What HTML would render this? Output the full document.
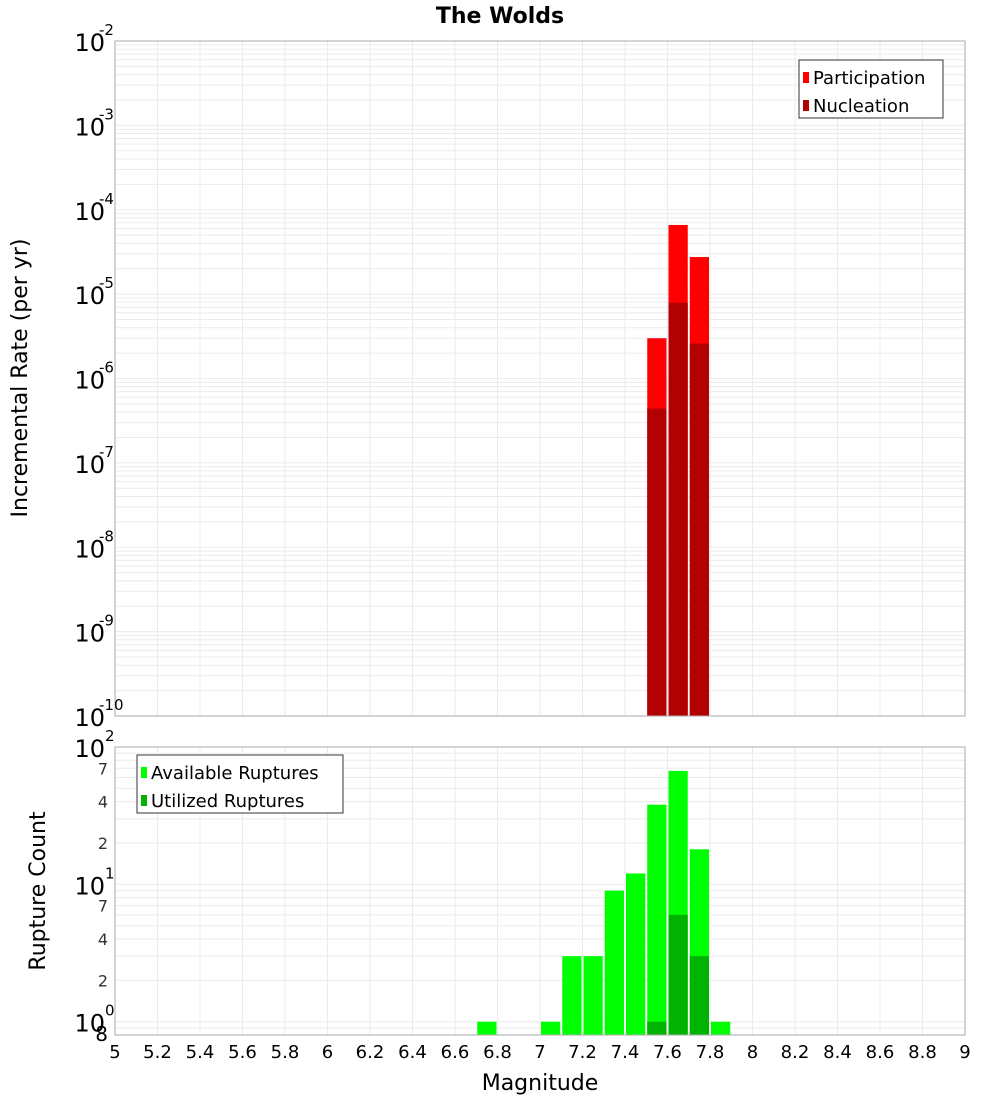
<!DOCTYPE html>
<html><head><meta charset="utf-8">
<style>
body{margin:0;background:#fff;font-family:"DejaVu Sans","Liberation Sans",sans-serif;}
svg text{font-family:"DejaVu Sans","Liberation Sans",sans-serif;}
</style></head>
<body>
<svg id="c" width="1000" height="1100" xmlns="http://www.w3.org/2000/svg">
<rect width="1000" height="1100" fill="#fff"/>
<text x="500" y="23" text-anchor="middle" font-size="22" font-weight="bold">The Wolds</text>
<text transform="translate(27,378) rotate(-90)" text-anchor="middle" font-size="22">Incremental Rate (per yr)</text>
<text transform="translate(45,891) rotate(-90)" text-anchor="middle" font-size="22">Rupture Count</text>
<text x="540" y="1090" text-anchor="middle" font-size="22">Magnitude</text>
<g id="g"></g>
</svg>
<script>
const binCenters = [7.55, 7.65, 7.75];
const participation = [3.0e-6, 6.6e-5, 2.75e-5];
const nucleation = [4.4e-7, 7.9e-6, 2.6e-6];
const countBins = [6.75, 7.05, 7.15, 7.25, 7.35, 7.45, 7.55, 7.65, 7.75, 7.85];
const available = [1, 1, 3, 3, 9, 12, 38, 67, 18, 1];
const utilBins = [7.55, 7.65, 7.75];
const utilized = [1, 6, 3];
const xTicks = [5,5.2,5.4,5.6,5.8,6,6.2,6.4,6.6,6.8,7,7.2,7.4,7.6,7.8,8,8.2,8.4,8.6,8.8,9];

const NS="http://www.w3.org/2000/svg";
const g=document.getElementById('g');
function el(t,a,p){const e=document.createElementNS(NS,t);for(const k in a)e.setAttribute(k,a[k]);(p||g).appendChild(e);return e;}
const X0=115,X1=965;
const x=m=>X0+(m-5)/4*(X1-X0);
const T0=41,T1=716; const yt=v=>T0+(-2-Math.log10(v))/8*(T1-T0);
const B0=747,B1=1035; const lo=Math.log10(0.8); const yb=v=>B0+(2-Math.log10(v))/(2-lo)*(B1-B0);
const bw=x(5.1)-x(5)-2;

// grids
function grid(yf,Y0,Y1,decs){
  xTicks.forEach((t,i)=>{ if(i>0&&i<xTicks.length-1){const l=el('line',{x1:x(t),x2:x(t),y1:Y0,y2:Y1,stroke:'#ebebeb'});}});
  decs.forEach(d=>{for(let k=1;k<10;k++){const v=k*Math.pow(10,d);const yy=yf(v);if(yy<Y0-0.5||yy>Y1+0.5)continue;const l=el('line',{x1:X0,x2:X1,y1:yy,y2:yy,stroke:'#ebebeb'});}});
}
grid(yt,T0,T1,[-10,-9,-8,-7,-6,-5,-4,-3,-2]);
grid(yb,B0,B1,[-1,0,1,2]);

// top bars
binCenters.forEach((m,i)=>{
  const r=el('rect',{x:x(m-0.05)+1,width:bw,y:yt(participation[i]),height:T1-yt(participation[i]),fill:'#ff0000'});
  
  const n=el('rect',{x:x(m-0.05)+1,width:bw,y:yt(nucleation[i]),height:T1-yt(nucleation[i]),fill:'#b30000'});
  
});
// bottom bars
countBins.forEach((m,i)=>{
  const r=el('rect',{x:x(m-0.05)+1,width:bw,y:yb(available[i]),height:B1-yb(available[i]),fill:'#00ff00'});
  
});
utilBins.forEach((m,i)=>{
  const r=el('rect',{x:x(m-0.05)+1,width:bw,y:yb(utilized[i]),height:B1-yb(utilized[i]),fill:'#00b300'});
  
});
// frames
const f1=el('rect',{x:X0,y:T0,width:X1-X0,height:T1-T0,fill:'none',stroke:'#aaa'});

const f2=el('rect',{x:X0,y:B0,width:X1-X0,height:B1-B0,fill:'none',stroke:'#aaa'});


// top y labels
for(let d=-10;d<=-2;d++){
  const yy=yt(Math.pow(10,d));
  const t=el('text',{x:105,y:yy+10,'text-anchor':'end','font-size':24});
  
  t.textContent='10';
  const s=el('text',{x:99,y:yy-6,'font-size':15});
  
  s.textContent=String(d);
}
// bottom y labels
[0,1,2].forEach(d=>{
  const yy=yb(Math.pow(10,d));
  const t=el('text',{x:105,y:yy+10,'text-anchor':'end','font-size':24});
  
  t.textContent='10';
  const s=el('text',{x:105,y:yy-6,'font-size':15});
  
  s.textContent=String(d);
});
[[7,1],[4,1],[2,1],[7,0],[4,0],[2,0],[8,-1]].forEach(([k,d])=>{
  const yy=yb(k*Math.pow(10,d));
  const t=el('text',{x:108,y:yy+6,'text-anchor':'end','font-size':k===8?20:16,fill:k===8?'#000':'#333'});
  
  t.textContent=String(k);
});
// x labels
xTicks.forEach(t=>{
  const e=el('text',{x:x(t),y:1058,'text-anchor':'middle','font-size':18});
  
  e.textContent=String(t);
});
// legends
function legend(x0,y0,w,items,nm){
  const lg=el('g',{});
  el('rect',{x:x0,y:y0,width:w,height:58,fill:'#fff',stroke:'#333'},lg);
  items.forEach((it,i)=>{
    el('rect',{x:x0+4,y:y0+12+i*28,width:6,height:11,fill:it[1]},lg);
    const t=el('text',{x:x0+14,y:y0+24+i*28,'font-size':18},lg);t.textContent=it[0];
  });
}
legend(799,60,144,[['Participation','#ff0000'],['Nucleation','#b30000']],'top-legend');
legend(137,755,206,[['Available Ruptures','#00ff00'],['Utilized Ruptures','#00b300']],'bottom-legend');
</script>
</body></html>
